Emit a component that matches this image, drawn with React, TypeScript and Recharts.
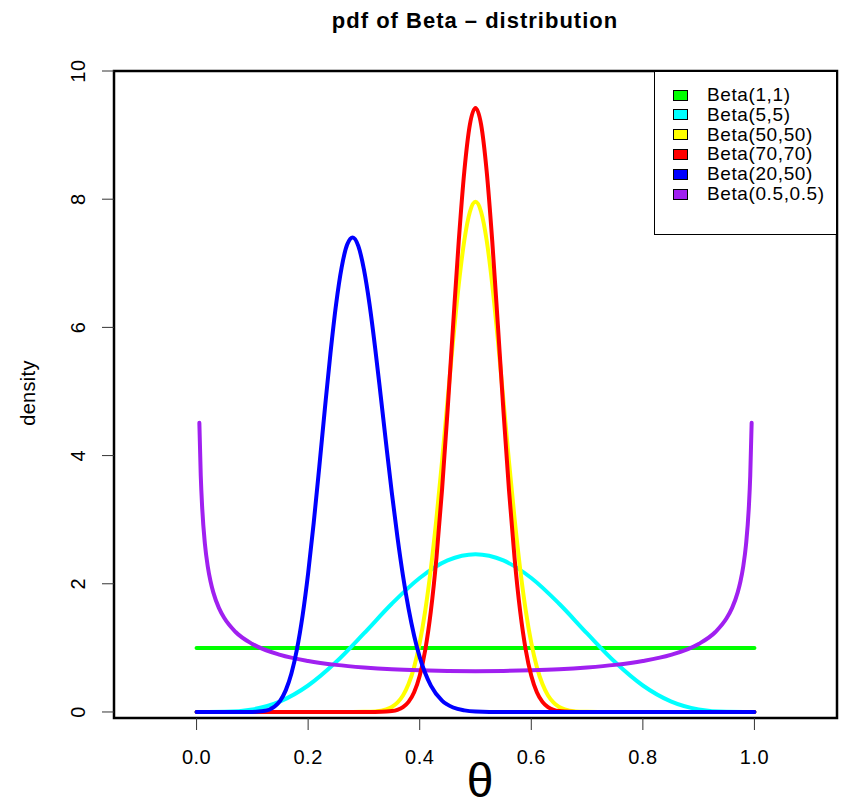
import { LineChart, Line, XAxis, YAxis, ReferenceArea } from "recharts";

const FONT = '"Liberation Sans", Arial, Helvetica, sans-serif';

const seriesNames = ["Beta(1,1)", "Beta(5,5)", "Beta(50,50)", "Beta(70,70)", "Beta(20,50)", "Beta(0.5,0.5)"];
const seriesColors = ["#00FF00", "#00FFFF", "#FFFF00", "#FF0000", "#0000FF", "#A020F0"];

const xTicks = [0, 0.2, 0.4, 0.6, 0.8, 1.0];
const yTicks = [0, 2, 4, 6, 8, 10];

// theta positions and densities, one pair of arrays per curve
const unifX = [0, 1];
const unifY = [1, 1];

const b55X = [0, 0.05, 0.1, 0.15, 0.2, 0.25, 0.3, 0.35, 0.4, 0.45, 0.5, 0.55, 0.6, 0.65, 0.7, 0.75, 0.8, 0.85, 0.9, 0.95, 1];
const b55Y = [0, 0.003, 0.041, 0.166, 0.413, 0.779, 1.225, 1.688, 2.09, 2.364, 2.461, 2.364, 2.09, 1.688, 1.225, 0.779, 0.413, 0.166, 0.041, 0.003, 0];

const peakX = [
  0, 0.28, 0.3, 0.32, 0.34, 0.35, 0.36, 0.37, 0.38, 0.39, 0.4, 0.41, 0.42, 0.43, 0.44, 0.45, 0.46, 0.47, 0.48, 0.49, 0.5,
  0.51, 0.52, 0.53, 0.54, 0.55, 0.56, 0.57, 0.58, 0.59, 0.6, 0.61, 0.62, 0.63, 0.64, 0.65, 0.66, 0.68, 0.7, 0.72, 1,
];
const b5050Y = [
  0, 0, 0.002, 0.009, 0.04, 0.078, 0.146, 0.258, 0.435, 0.7, 1.077, 1.585, 2.234, 3.018, 3.91, 4.864, 5.811, 6.67, 7.359, 7.805, 7.959,
  7.805, 7.359, 6.67, 5.811, 4.864, 3.91, 3.018, 2.234, 1.585, 1.077, 0.7, 0.435, 0.258, 0.146, 0.078, 0.04, 0.009, 0.002, 0, 0,
];
const b7070Y = [
  0, 0, 0, 0.001, 0.006, 0.014, 0.034, 0.075, 0.157, 0.307, 0.564, 0.971, 1.574, 2.405, 3.464, 4.71, 6.051, 7.348, 8.438, 9.167, 9.424,
  9.167, 8.438, 7.348, 6.051, 4.71, 3.464, 2.405, 1.574, 0.971, 0.564, 0.307, 0.157, 0.075, 0.034, 0.014, 0.006, 0.001, 0, 0, 0,
];

const b2050X = [
  0, 0.05, 0.08, 0.1, 0.12, 0.14, 0.15, 0.16, 0.17, 0.18, 0.19, 0.2, 0.21, 0.22, 0.23, 0.24, 0.25, 0.26, 0.27, 0.28, 0.29, 0.3,
  0.31, 0.32, 0.33, 0.34, 0.35, 0.36, 0.37, 0.38, 0.39, 0.4, 0.42, 0.44, 0.46, 0.48, 0.5, 0.55, 0.6, 1,
];
const b2050Y = [
  0, 0, 0, 0.001, 0.014, 0.085, 0.178, 0.341, 0.599, 0.98, 1.5, 2.163, 2.951, 3.826, 4.731, 5.597, 6.354, 6.934, 7.292, 7.403, 7.267, 6.905,
  6.363, 5.688, 4.938, 4.168, 3.421, 2.733, 2.126, 1.611, 1.19, 0.856, 0.411, 0.178, 0.07, 0.025, 0.008, 0, 0, 0,
];

const bHalfX = [
  0.005, 0.0075, 0.01, 0.015, 0.02, 0.025, 0.03, 0.04, 0.05, 0.07, 0.1, 0.15, 0.2, 0.25, 0.3, 0.35, 0.4, 0.45, 0.5,
  0.55, 0.6, 0.65, 0.7, 0.75, 0.8, 0.85, 0.9, 0.93, 0.95, 0.96, 0.97, 0.975, 0.98, 0.985, 0.99, 0.9925, 0.995,
];
const bHalfY = [
  4.513, 3.689, 3.199, 2.619, 2.274, 2.039, 1.866, 1.624, 1.461, 1.248, 1.061, 0.891, 0.796, 0.735, 0.695, 0.667, 0.65, 0.64, 0.637,
  0.64, 0.65, 0.667, 0.695, 0.735, 0.796, 0.891, 1.061, 1.248, 1.461, 1.624, 1.866, 2.039, 2.274, 2.619, 3.199, 3.689, 4.513,
];

const zip = (xs: number[], ys: number[]) => xs.map((x, i) => ({ x, y: ys[i] }));

const seriesData = [
  zip(unifX, unifY),
  zip(b55X, b55Y),
  zip(peakX, b5050Y),
  zip(peakX, b7070Y),
  zip(b2050X, b2050Y),
  zip(bHalfX, bHalfY),
];

// purple sits under the red and blue curves
const drawOrder = [0, 1, 2, 5, 3, 4];

const X_DOMAIN: [number, number] = [-0.148, 1.148];
const Y_DOMAIN: [number, number] = [-0.094, 10];

const XTick = (props: any) => (
  <text
    x={props.x}
    y={props.y + 34}
    textAnchor="middle"
    fontSize={20}
    letterSpacing={0.5}
    fontFamily={FONT}
    fill="#000"
  >
    {Number(props.payload.value).toFixed(1)}
  </text>
);

const YTick = (props: any) => {
  const x = props.x - 17;
  return (
    <text
      x={x}
      y={props.y}
      transform={`rotate(-90, ${x}, ${props.y})`}
      textAnchor="middle"
      fontSize={20}
      letterSpacing={0.5}
      fontFamily={FONT}
      fill="#000"
    >
      {props.payload.value}
    </text>
  );
};

export default function App() {
  return (
    <div style={{ position: "absolute", left: 0, top: 0, width: 842, height: 807, background: "#fff", fontFamily: FONT }}>
      <LineChart width={842} height={807} margin={{ top: 71, right: 5, bottom: 29, left: 54 }}>
        <XAxis
          dataKey="x"
          type="number"
          domain={X_DOMAIN}
          ticks={xTicks}
          allowDataOverflow
          axisLine={false}
          tickLine={{ stroke: "#333", strokeWidth: 1 }}
          tickSize={12}
          tickMargin={0}
          height={60}
          tick={<XTick />}
        />
        <YAxis
          type="number"
          domain={Y_DOMAIN}
          ticks={yTicks}
          allowDataOverflow
          axisLine={false}
          tickLine={{ stroke: "#333", strokeWidth: 1 }}
          tickSize={12}
          tickMargin={0}
          width={60}
          tick={<YTick />}
        />
        <ReferenceArea
          x1={X_DOMAIN[0]}
          x2={X_DOMAIN[1]}
          y1={Y_DOMAIN[0]}
          y2={Y_DOMAIN[1]}
          fill="none"
          stroke="#000"
          strokeWidth={2.5}
          ifOverflow="visible"
        />
        {drawOrder.map((i) => (
          <Line
            key={seriesNames[i]}
            data={seriesData[i]}
            dataKey="y"
            name={seriesNames[i]}
            type="monotone"
            stroke={seriesColors[i]}
            strokeWidth={4}
            strokeLinecap="round"
            dot={false}
            activeDot={false}
            isAnimationActive={false}
          />
        ))}
      </LineChart>

      <div
        style={{
          position: "absolute",
          left: 0,
          width: 950,
          top: 9,
          textAlign: "center",
          fontWeight: "bold",
          fontSize: 22,
          letterSpacing: 1,
          lineHeight: "24px",
        }}
      >
        pdf of Beta – distribution
      </div>

      <div
        style={{
          position: "absolute",
          left: 0,
          top: 756,
          width: 960,
          textAlign: "center",
          fontSize: 48,
          lineHeight: "50px",
        }}
      >
        θ
      </div>

      <div
        style={{
          position: "absolute",
          left: 28 - 50,
          top: 393 - 11,
          width: 100,
          height: 22,
          lineHeight: "22px",
          textAlign: "center",
          fontSize: 20,
          letterSpacing: 0.3,
          transform: "rotate(-90deg)",
        }}
      >
        density
      </div>

      <div
        style={{
          position: "absolute",
          left: 654,
          top: 71,
          width: 183,
          height: 164,
          border: "1.5px solid #000",
          boxSizing: "border-box",
          background: "#fff",
        }}
      >
        {seriesNames.map((name, i) => (
          <div
            key={name}
            style={{ position: "absolute", left: 0, top: 13 + i * 19.8, height: 20, display: "flex", alignItems: "center" }}
          >
            <div
              style={{
                marginLeft: 18,
                width: 15,
                height: 11,
                background: seriesColors[i],
                border: "1px solid #000",
                boxSizing: "border-box",
              }}
            />
            <span style={{ marginLeft: 19, fontSize: 19, letterSpacing: 0.6, whiteSpace: "nowrap" }}>{name}</span>
          </div>
        ))}
      </div>
    </div>
  );
}
